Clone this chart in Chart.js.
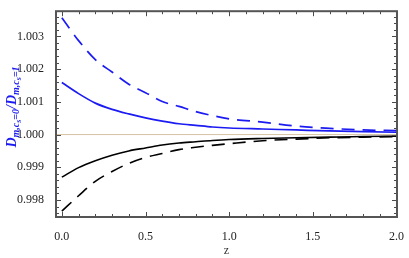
<!DOCTYPE html>
<html>
<head>
<meta charset="utf-8">
<script src="https://cdn.jsdelivr.net/npm/chart.js@4/dist/chart.umd.min.js"></script>
<style>
  html, body { margin: 0; padding: 0; background: #fff; }
  canvas { display: block; }
</style>
</head>
<body>
<canvas id="chart" width="409" height="258"></canvas>
<script>
// values
const zValues = [0, 0.1, 0.2, 0.3, 0.4, 0.5, 0.6, 0.7, 0.8, 0.9, 1.0, 1.2, 1.4, 1.6, 1.8, 2.0];
const blueDashed = [1.00357, 1.00287, 1.00229, 1.00191, 1.00154, 1.00128, 1.00101, 1.00086, 1.00070, 1.00058, 1.00048, 1.00038, 1.00026, 1.00019, 1.00014, 1.00012];
const blueSolid = [1.00159, 1.00125, 1.00096, 1.00077, 1.00063, 1.00051, 1.00041, 1.00033, 1.00028, 1.00023, 1.00020, 1.00017, 1.00014, 1.00011, 1.00009, 1.00007];
const blackSolid = [0.99870, 0.99899, 0.99920, 0.99937, 0.99950, 0.99959, 0.99968, 0.99974, 0.99978, 0.99982, 0.99985, 0.99988, 0.99990, 0.99992, 0.99994, 0.99995];
const blackDashed = [0.99766, 0.99813, 0.99857, 0.99887, 0.99912, 0.99930, 0.99942, 0.99954, 0.99961, 0.99967, 0.99972, 0.99981, 0.99986, 0.99990, 0.99992, 0.99994];
const referenceLevel = 1.0;

const xTicks = [0, 0.5, 1.0, 1.5, 2.0];
const yTicks = [0.998, 0.999, 1.000, 1.001, 1.002, 1.003];
const xMin = -0.035, xMax = 2.003;
const yMin = 0.99748, yMax = 1.00377;

const serif = '"Liberation Serif", "DejaVu Serif", serif';
const blue = '#1c1cf2';

function toPoints(ys) {
    return zValues.map((z, i) => ({ x: z, y: ys[i] }));
}

// frame with inward ticks on every side
const framePlugin = {
    id: 'frame',
    afterDraw(chart) {
        const ctx = chart.ctx;
        const a = chart.chartArea;
        const xs = chart.scales.x;
        const ys = chart.scales.y;
        ctx.save();
        ctx.strokeStyle = '#4a4a4a';
        ctx.lineWidth = 1;
        for (let v = 0; v <= 2.0001; v += 0.1) {
            const px = Math.round(xs.getPixelForValue(v)) + 0.5;
            const major = Math.abs(v / 0.5 - Math.round(v / 0.5)) < 1e-6;
            const len = major ? 5 : 3;
            ctx.beginPath();
            ctx.moveTo(px, a.bottom); ctx.lineTo(px, a.bottom - len);
            ctx.moveTo(px, a.top); ctx.lineTo(px, a.top + len);
            ctx.stroke();
        }
        for (let v = 0.9976; v <= yMax; v += 0.0002) {
            const py = Math.round(ys.getPixelForValue(v)) + 0.5;
            const major = Math.abs(v / 0.001 - Math.round(v / 0.001)) < 1e-4;
            const len = major ? 5 : 3;
            ctx.beginPath();
            ctx.moveTo(a.left, py); ctx.lineTo(a.left + len, py);
            ctx.moveTo(a.right, py); ctx.lineTo(a.right - len, py);
            ctx.stroke();
        }
        ctx.lineWidth = 2;
        ctx.strokeStyle = '#555';
        ctx.strokeRect(a.left, a.top, a.right - a.left, a.bottom - a.top);
        ctx.restore();
    }
};

// rotated y title with nested subscripts
const yTitlePlugin = {
    id: 'yTitle',
    afterDraw(chart) {
        const ctx = chart.ctx;
        const parts = [
            { t: 'D', size: 14, dy: 0 },
            { t: 'm,c', size: 10, dy: 3 },
            { t: 's', size: 8, dy: 5 },
            { t: '=0', size: 10, dy: 3 },
            { t: '/', size: 14, dy: 0 },
            { t: 'D', size: 14, dy: 0 },
            { t: 'm,c', size: 10, dy: 3 },
            { t: 's', size: 8, dy: 5 },
            { t: '=1', size: 10, dy: 3 }
        ];
        ctx.save();
        let total = 0;
        parts.forEach(p => {
            ctx.font = 'italic bold ' + p.size + 'px ' + serif;
            p.w = ctx.measureText(p.t).width;
            total += p.w;
        });
        ctx.translate(16, 107);
        ctx.rotate(-Math.PI / 2);
        ctx.fillStyle = blue;
        ctx.textBaseline = 'alphabetic';
        let x = -total / 2;
        parts.forEach(p => {
            ctx.font = 'italic bold ' + p.size + 'px ' + serif;
            ctx.fillText(p.t, x, p.dy);
            x += p.w;
        });
        ctx.restore();
    }
};

new Chart(document.getElementById('chart'), {
    type: 'line',
    data: {
        datasets: [
            {
                data: [{ x: xMin, y: referenceLevel }, { x: xMax, y: referenceLevel }],
                borderColor: '#d8c3a3',
                borderWidth: 1,
                pointRadius: 0
            },
            {
                data: toPoints(blueDashed),
                borderColor: blue,
                borderWidth: 1.7,
                borderDash: [13, 8],
                pointRadius: 0,
                cubicInterpolationMode: 'monotone'
            },
            {
                data: toPoints(blueSolid),
                borderColor: blue,
                borderWidth: 1.7,
                pointRadius: 0,
                cubicInterpolationMode: 'monotone'
            },
            {
                data: toPoints(blackSolid),
                borderColor: '#000',
                borderWidth: 1.6,
                pointRadius: 0,
                cubicInterpolationMode: 'monotone'
            },
            {
                data: toPoints(blackDashed),
                borderColor: '#000',
                borderWidth: 1.6,
                borderDash: [13, 8],
                pointRadius: 0,
                cubicInterpolationMode: 'monotone'
            }
        ]
    },
    options: {
        responsive: false,
        animation: false,
        devicePixelRatio: 1,
        layout: { padding: { left: 0, right: 7, top: 1, bottom: 0 } },
        plugins: {
            legend: { display: false },
            tooltip: { enabled: false }
        },
        scales: {
            x: {
                type: 'linear',
                min: xMin,
                max: xMax,
                grid: { display: false },
                border: { display: false },
                afterBuildTicks: s => { s.ticks = xTicks.map(v => ({ value: v })); },
                afterFit: s => { s.height = 41; },
                ticks: {
                    color: '#222',
                    font: { family: serif, size: 12 },
                    padding: 5,
                    maxRotation: 0,
                    callback: v => v.toFixed(1)
                },
                title: {
                    display: true,
                    text: 'z',
                    color: '#333',
                    font: { family: serif, size: 12 },
                    padding: { top: 6, bottom: 0 }
                }
            },
            y: {
                min: yMin,
                max: yMax,
                grid: { display: false },
                border: { display: false },
                afterBuildTicks: s => { s.ticks = yTicks.map(v => ({ value: v })); },
                afterFit: s => { s.width = 56; },
                ticks: {
                    color: '#222',
                    font: { family: serif, size: 12 },
                    padding: 4,
                    callback: v => v.toFixed(3)
                }
            }
        }
    },
    plugins: [framePlugin, yTitlePlugin]
});
</script>
</body>
</html>
